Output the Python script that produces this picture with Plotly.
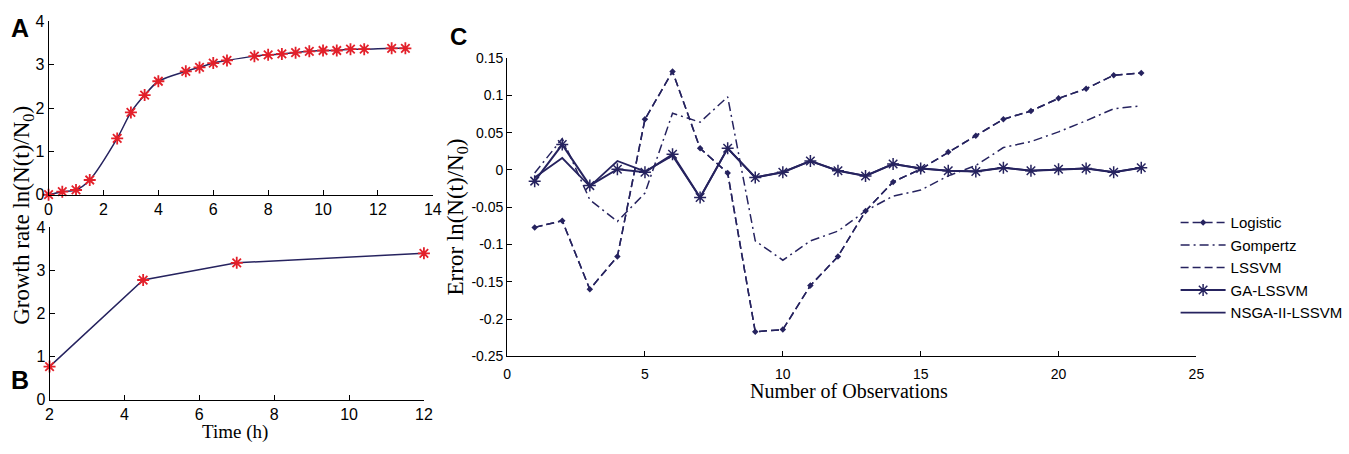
import plotly.graph_objects as go

# ---------------- data ----------------
# Panel A: growth curve
a_time = [0, 0.5, 1, 1.5, 2.5, 3, 3.5, 4, 5, 5.5, 6, 6.5, 7.5, 8, 8.5, 9, 9.5, 10, 10.5, 11, 11.5, 12.5, 13]
a_growth = [0, 0.07, 0.11, 0.34, 1.30, 1.90, 2.30, 2.62, 2.85, 2.94, 3.04, 3.10, 3.20, 3.23, 3.25,
            3.28, 3.31, 3.33, 3.33, 3.36, 3.36, 3.38, 3.38]

# Panel B: validation points
b_time = [2, 4.5, 7, 12]
b_growth = [0.77, 2.78, 3.18, 3.40]

# Panel C: prediction errors
c_obs = list(range(1, 24))
logistic = [-0.077, -0.068, -0.160, -0.116, 0.068, 0.132, 0.029, -0.004, -0.217, -0.214, -0.155, -0.116,
            -0.055, -0.016, 0.001, 0.024, 0.046, 0.068, 0.079, 0.096, 0.109, 0.127, 0.130]
gompertz = [-0.004, 0.042, -0.040, -0.069, -0.031, 0.076, 0.064, 0.098, -0.095, -0.121, -0.095, -0.082,
            -0.055, -0.035, -0.027, -0.008, 0.006, 0.030, 0.038, 0.051, 0.066, 0.082, 0.086]
lssvm = [-0.077, -0.068, -0.160, -0.116, 0.068, 0.132, 0.029, -0.004, -0.217, -0.214, -0.155, -0.116,
         -0.055, -0.016, 0.001, 0.024, 0.046, 0.068, 0.079, 0.096, 0.109, 0.127, 0.130]
ga_lssvm = [-0.015, 0.034, -0.021, 0.001, -0.003, 0.021, -0.037, 0.029, -0.010, -0.003, 0.012, -0.001,
            -0.008, 0.008, 0.002, -0.001, -0.002, 0.003, -0.001, 0.001, 0.002, -0.003, 0.003]
nsga_lssvm = [-0.010, 0.016, -0.022, 0.012, -0.002, 0.019, -0.037, 0.029, -0.010, -0.003, 0.012, -0.001,
              -0.008, 0.008, 0.002, -0.001, -0.002, 0.003, -0.001, 0.001, 0.002, -0.003, 0.003]

c_yticks = [0.15, 0.1, 0.05, 0, -0.05, -0.1, -0.15, -0.2, -0.25]
c_yticktext = ["0.15", "0.1", "0.05", "0", "-0.05", "-0.1", "-0.15", "-0.2", "-0.25"]

# ---------------- style ----------------
W, H = 1349, 454
NAVY = "#26235f"
RED = "#e3202a"
SANS = "Liberation Sans, Arial, sans-serif"
SERIF = "Liberation Serif, Times New Roman, serif"


def px_x(a, b):
    return [a / W, b / W]


def px_y(top, bottom):
    return [1 - bottom / H, 1 - top / H]


fig = go.Figure()

# Panel A
fig.add_trace(go.Scatter(
    x=a_time, y=a_growth, mode="lines+markers", xaxis="x", yaxis="y",
    line=dict(color=NAVY, width=1.5, shape="spline", smoothing=0.8),
    marker=dict(symbol="asterisk", size=10, color=RED, line=dict(color=RED, width=1.8)),
    showlegend=False, cliponaxis=False))

# Panel B
fig.add_trace(go.Scatter(
    x=b_time, y=b_growth, mode="lines+markers", xaxis="x2", yaxis="y2",
    line=dict(color=NAVY, width=1.5),
    marker=dict(symbol="asterisk", size=10, color=RED, line=dict(color=RED, width=1.8)),
    showlegend=False, cliponaxis=False))

# Panel C
fig.add_trace(go.Scatter(
    x=c_obs, y=logistic, mode="lines+markers", xaxis="x3", yaxis="y3", name="Logistic",
    line=dict(color=NAVY, width=1.5, dash="8px,4px"),
    marker=dict(symbol="diamond", size=5, color=NAVY), cliponaxis=False))
fig.add_trace(go.Scatter(
    x=c_obs, y=gompertz, mode="lines", xaxis="x3", yaxis="y3", name="Gompertz",
    line=dict(color=NAVY, width=1.5, dash="9px,4px,2px,4px"), cliponaxis=False))
fig.add_trace(go.Scatter(
    x=c_obs, y=lssvm, mode="lines", xaxis="x3", yaxis="y3", name="LSSVM",
    line=dict(color=NAVY, width=1.5, dash="8px,4px"), cliponaxis=False))
fig.add_trace(go.Scatter(
    x=c_obs, y=ga_lssvm, mode="lines+markers", xaxis="x3", yaxis="y3", name="GA-LSSVM",
    line=dict(color=NAVY, width=2),
    marker=dict(symbol="asterisk", size=10, color=NAVY, line=dict(color=NAVY, width=1.5)),
    cliponaxis=False))
fig.add_trace(go.Scatter(
    x=c_obs, y=nsga_lssvm, mode="lines", xaxis="x3", yaxis="y3", name="NSGA-II-LSSVM",
    line=dict(color=NAVY, width=1.8), cliponaxis=False))

axis_common = dict(showline=True, linecolor="black", linewidth=1, ticks="inside", ticklen=5,
                   tickcolor="black", showgrid=False, zeroline=False, mirror=False)
ab_tickfont = dict(family=SANS, size=16, color="black")
c_tickfont = dict(family=SANS, size=14, color="black")

fig.update_layout(
    width=W, height=H, autosize=False,
    margin=dict(l=0, r=0, t=0, b=0),
    paper_bgcolor="white", plot_bgcolor="white",
    xaxis=dict(domain=px_x(45, 433), range=[0, 14], tickvals=[0, 2, 4, 6, 8, 10, 12, 14],
               anchor="y", tickfont=ab_tickfont, **axis_common),
    yaxis=dict(domain=px_y(14, 194), range=[0, 4], tickvals=[0, 1, 2, 3, 4],
               anchor="x", tickfont=ab_tickfont, **axis_common),
    xaxis2=dict(domain=px_x(46, 424), range=[2, 12], tickvals=[2, 4, 6, 8, 10, 12],
                anchor="y2", tickfont=ab_tickfont, **axis_common),
    yaxis2=dict(domain=px_y(228, 407), range=[0, 4], tickvals=[0, 1, 2, 3, 4],
                anchor="x2", tickfont=ab_tickfont, **axis_common),
    xaxis3=dict(domain=px_x(508, 1204), range=[0, 25], tickvals=[0, 5, 10, 15, 20, 25],
                anchor="y3", tickfont=c_tickfont, ticklabelstandoff=5, **axis_common),
    yaxis3=dict(domain=px_y(52, 362), range=[-0.25, 0.15], tickvals=c_yticks, ticktext=c_yticktext,
                anchor="x3", tickfont=c_tickfont, **axis_common),
    legend=dict(x=1183 / W, y=1 - 206 / H, xanchor="left", yanchor="top",
                font=dict(family=SANS, size=15, color="black"),
                bgcolor="rgba(0,0,0,0)", borderwidth=0, itemwidth=45),
)

annotations = [
    dict(text="A", x=16 / W, y=1 - 21 / H, font=dict(family=SANS, size=25, color="black"), bold=True),
    dict(text="B", x=16 / W, y=1 - 386 / H, font=dict(family=SANS, size=25, color="black"), bold=True),
    dict(text="C", x=459 / W, y=1 - 30 / H, font=dict(family=SANS, size=24, color="black"), bold=True),
    dict(text="Growth rate ln(N(t)/N<sub>0</sub>)", x=19 / W, y=1 - 215 / H, textangle=-90,
         font=dict(family=SERIF, size=23, color="black")),
    dict(text="Error ln(N(t)/N<sub>0</sub>)", x=457 / W, y=1 - 217 / H, textangle=-90,
         font=dict(family=SERIF, size=23, color="black")),
    dict(text="Time (h)", x=233 / W, y=1 - 441 / H, font=dict(family=SERIF, size=19, color="black")),
    dict(text="Number of Observations", x=853 / W, y=1 - 398 / H,
         font=dict(family=SERIF, size=20, color="black")),
]
for a in annotations:
    bold = a.pop("bold", False)
    if bold:
        a["text"] = "<b>" + a["text"] + "</b>"
    fig.add_annotation(xref="paper", yref="paper", xanchor="center", yanchor="middle",
                       showarrow=False, **a)

fig.write_html("out.html", config={"displayModeBar": False},
               post_script="document.body.style.margin='0';document.body.style.overflow='hidden';")
